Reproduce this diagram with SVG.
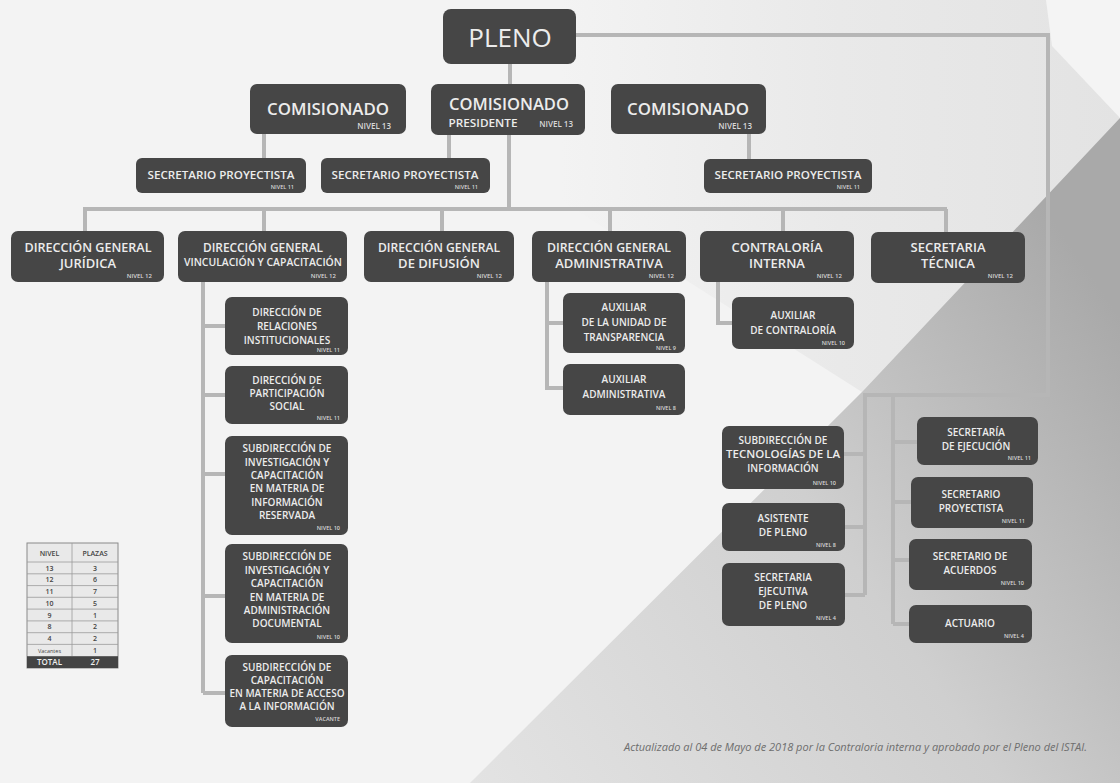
<svg xmlns="http://www.w3.org/2000/svg" width="1120" height="783" viewBox="0 0 1120 783">
<defs>
<linearGradient id="gd" x1="0" y1="1" x2="1" y2="0.3">
<stop offset="0" stop-color="#e3e3e3"/>
<stop offset="0.55" stop-color="#cfcfcf"/>
<stop offset="1" stop-color="#a9a9a9"/>
</linearGradient>
<linearGradient id="gl" x1="0" y1="0" x2="1" y2="0">
<stop offset="0" stop-color="#f3f3f3"/>
<stop offset="0.5" stop-color="#e9e9e9"/>
<stop offset="1" stop-color="#e3e3e3"/>
</linearGradient>
<style>
.bx{fill:#464646;}
.t{fill:#ececec;font-family:"Open Sans","Noto Sans","Liberation Sans",sans-serif;font-weight:600;text-anchor:middle;font-size:10px;}
.lv{fill:#d8d8d8;font-family:"Open Sans","Noto Sans","Liberation Sans",sans-serif;font-weight:600;text-anchor:end;font-size:5.5px;}
.c{fill:none;stroke:#b6b6b6;stroke-width:4;}
.tb{font-family:"Open Sans","Noto Sans","Liberation Sans",sans-serif;font-weight:600;text-anchor:middle;font-size:7px;fill:#444;}
</style>
</defs>
<rect width="1120" height="783" fill="#f3f3f3"/>
<polygon points="560,0 1120,0 1120,120 862,392 560,200" fill="url(#gl)"/>
<polygon points="1046,0 1120,0 1120,118 1052,46" fill="#f4f4f4"/>
<polygon points="1120,118 1120,783 470,783 862,392" fill="url(#gd)"/>

<g id="connectors" class="c">
<path d="M510,63 V84"/>
<path d="M576,35 H1048 V395 H865 V595"/>
<path d="M893,395 V624"/>
<path d="M844,454 H865 M845,527 H865 M845,595 H865"/>
<path d="M893,442 H917 M893,502 H911 M893,560 H909 M893,624 H909"/>
<path d="M264,134 V158"/>
<path d="M449,135 V158"/>
<path d="M509,135 V209"/>
<path d="M749,134 V159"/>
<path d="M83,209 H947"/>
<path d="M85,209 V231 M264,209 V231 M442,209 V231 M610,209 V231 M783,209 V231 M946,209 V232"/>
<path d="M203,282 V693 M203,326 H225 M203,395 H225 M203,474 H225 M203,596 H225 M203,693 H225"/>
<path d="M547,282 V388 H563 M547,323 H563"/>
<path d="M718,282 V323 H732"/>
</g>

<g id="pleno"><rect class="bx" x="443" y="9" width="133" height="55" rx="8"/><text class="t" x="510" y="47" style="font-size:26px;font-weight:500">PLENO</text></g>

<g id="comisionado1"><rect class="bx" x="250" y="84" width="156" height="50" rx="7"/><text class="t" x="328" y="115" style="font-size:17px" textLength="122" lengthAdjust="spacingAndGlyphs">COMISIONADO</text><text class="lv" x="391" y="129" style="font-size:8px">NIVEL 13</text></g>

<g id="comisionado-presidente"><rect class="bx" x="431" y="84" width="154" height="51" rx="7"/><text class="t" x="509" y="110" style="font-size:17px" textLength="120" lengthAdjust="spacingAndGlyphs">COMISIONADO</text><text class="t" x="483" y="127" style="font-size:10px" textLength="69" lengthAdjust="spacingAndGlyphs">PRESIDENTE</text><text class="lv" x="573" y="127" style="font-size:8px">NIVEL 13</text></g>

<g id="comisionado3"><rect class="bx" x="611" y="84" width="155" height="50" rx="7"/><text class="t" x="688" y="115" style="font-size:17px" textLength="122" lengthAdjust="spacingAndGlyphs">COMISIONADO</text><text class="lv" x="752" y="129" style="font-size:8px">NIVEL 13</text></g>

<g id="sp1"><rect class="bx" x="136" y="158" width="170" height="35" rx="6"/><text class="t" x="221" y="179" style="font-size:11.5px" textLength="147" lengthAdjust="spacingAndGlyphs">SECRETARIO PROYECTISTA</text><text class="lv" x="294" y="189">NIVEL 11</text></g>
<g id="sp2"><rect class="bx" x="321" y="158" width="169" height="35" rx="6"/><text class="t" x="405" y="179" style="font-size:11.5px" textLength="147" lengthAdjust="spacingAndGlyphs">SECRETARIO PROYECTISTA</text><text class="lv" x="478" y="189">NIVEL 11</text></g>
<g id="sp3"><rect class="bx" x="704" y="159" width="168" height="34" rx="6"/><text class="t" x="788" y="179" style="font-size:11.5px" textLength="147" lengthAdjust="spacingAndGlyphs">SECRETARIO PROYECTISTA</text><text class="lv" x="860" y="189">NIVEL 11</text></g>

<g id="dg-juridica"><rect class="bx" x="11" y="231" width="153" height="51" rx="7"/><text class="t" x="88" y="252" style="font-size:13px" textLength="127" lengthAdjust="spacingAndGlyphs">DIRECCIÓN GENERAL</text><text class="t" x="88" y="268" style="font-size:13px">JURÍDICA</text><text class="lv" x="152" y="278" style="font-size:6px">NIVEL 12</text></g>
<g id="dg-vinculacion"><rect class="bx" x="178" y="231" width="169" height="51" rx="7"/><text class="t" x="263" y="252" style="font-size:13px" textLength="120" lengthAdjust="spacingAndGlyphs">DIRECCIÓN GENERAL</text><text class="t" x="263" y="266" style="font-size:10.5px" textLength="158" lengthAdjust="spacingAndGlyphs">VINCULACIÓN Y CAPACITACIÓN</text><text class="lv" x="336" y="278" style="font-size:6px">NIVEL 12</text></g>
<g id="dg-difusion"><rect class="bx" x="364" y="231" width="150" height="51" rx="7"/><text class="t" x="439" y="252" style="font-size:13px" textLength="122" lengthAdjust="spacingAndGlyphs">DIRECCIÓN GENERAL</text><text class="t" x="439" y="268" style="font-size:13px">DE DIFUSIÓN</text><text class="lv" x="502" y="278" style="font-size:6px">NIVEL 12</text></g>
<g id="dg-administrativa"><rect class="bx" x="532" y="231" width="154" height="51" rx="7"/><text class="t" x="609" y="252" style="font-size:13px" textLength="124" lengthAdjust="spacingAndGlyphs">DIRECCIÓN GENERAL</text><text class="t" x="609" y="268" style="font-size:13px">ADMINISTRATIVA</text><text class="lv" x="674" y="278" style="font-size:6px">NIVEL 12</text></g>
<g id="contraloria-interna"><rect class="bx" x="700" y="231" width="154" height="51" rx="7"/><text class="t" x="777" y="252" style="font-size:13px">CONTRALORÍA</text><text class="t" x="777" y="268" style="font-size:13px">INTERNA</text><text class="lv" x="842" y="278" style="font-size:6px">NIVEL 12</text></g>
<g id="secretaria-tecnica"><rect class="bx" x="871" y="232" width="154" height="51" rx="7"/><text class="t" x="948" y="252" style="font-size:13px">SECRETARIA</text><text class="t" x="948" y="268" style="font-size:13px">TÉCNICA</text><text class="lv" x="1013" y="278" style="font-size:6px">NIVEL 12</text></g>

<g id="dir-relaciones"><rect class="bx" x="225" y="297" width="123" height="58" rx="7"/><text class="t" x="287" y="316">DIRECCIÓN DE</text><text class="t" x="287" y="330">RELACIONES</text><text class="t" x="287" y="344">INSTITUCIONALES</text><text class="lv" x="340" y="352">NIVEL 11</text></g>
<g id="dir-participacion"><rect class="bx" x="225" y="366" width="123" height="58" rx="7"/><text class="t" x="287" y="384">DIRECCIÓN DE</text><text class="t" x="287" y="397">PARTICIPACIÓN</text><text class="t" x="287" y="410">SOCIAL</text><text class="lv" x="340" y="420">NIVEL 11</text></g>
<g id="sub-info-reservada"><rect class="bx" x="225" y="436" width="123" height="99" rx="7"/><text class="t" x="287" y="452">SUBDIRECCIÓN DE</text><text class="t" x="287" y="466">INVESTIGACIÓN Y</text><text class="t" x="287" y="479">CAPACITACIÓN</text><text class="t" x="287" y="492">EN MATERIA DE</text><text class="t" x="287" y="506">INFORMACIÓN</text><text class="t" x="287" y="519">RESERVADA</text><text class="lv" x="340" y="530">NIVEL 10</text></g>
<g id="sub-admin-documental"><rect class="bx" x="225" y="544" width="123" height="99" rx="7"/><text class="t" x="287" y="560">SUBDIRECCIÓN DE</text><text class="t" x="287" y="574">INVESTIGACIÓN Y</text><text class="t" x="287" y="587">CAPACITACIÓN</text><text class="t" x="287" y="601">EN MATERIA DE</text><text class="t" x="287" y="614">ADMINISTRACIÓN</text><text class="t" x="287" y="627">DOCUMENTAL</text><text class="lv" x="340" y="639">NIVEL 10</text></g>
<g id="sub-acceso-info"><rect class="bx" x="225" y="655" width="123" height="72" rx="7"/><text class="t" x="287" y="671">SUBDIRECCIÓN DE</text><text class="t" x="287" y="684">CAPACITACIÓN</text><text class="t" x="287" y="697" textLength="115" lengthAdjust="spacingAndGlyphs">EN MATERIA DE ACCESO</text><text class="t" x="287" y="710">A LA INFORMACIÓN</text><text class="lv" x="340" y="721">VACANTE</text></g>

<g id="aux-transparencia"><rect class="bx" x="563" y="293" width="122" height="60" rx="7"/><text class="t" x="624" y="311">AUXILIAR</text><text class="t" x="624" y="326">DE LA UNIDAD DE</text><text class="t" x="624" y="341">TRANSPARENCIA</text><text class="lv" x="676" y="350">NIVEL 9</text></g>
<g id="aux-administrativa"><rect class="bx" x="563" y="364" width="122" height="51" rx="7"/><text class="t" x="624" y="383">AUXILIAR</text><text class="t" x="624" y="398">ADMINISTRATIVA</text><text class="lv" x="676" y="410">NIVEL 8</text></g>
<g id="aux-contraloria"><rect class="bx" x="732" y="297" width="122" height="52" rx="7"/><text class="t" x="793" y="319">AUXILIAR</text><text class="t" x="793" y="334">DE CONTRALORÍA</text><text class="lv" x="845" y="345">NIVEL 10</text></g>

<g id="sub-tecnologias"><rect class="bx" x="722" y="426" width="122" height="63" rx="7"/><text class="t" x="783" y="444">SUBDIRECCIÓN DE</text><text class="t" x="783" y="458" textLength="114" lengthAdjust="spacingAndGlyphs">TECNOLOGÍAS DE LA</text><text class="t" x="783" y="472">INFORMACIÓN</text><text class="lv" x="836" y="485">NIVEL 10</text></g>
<g id="asistente-pleno"><rect class="bx" x="722" y="503" width="123" height="48" rx="7"/><text class="t" x="783" y="522">ASISTENTE</text><text class="t" x="783" y="536">DE PLENO</text><text class="lv" x="836" y="547">NIVEL 8</text></g>
<g id="sec-ejecutiva"><rect class="bx" x="722" y="563" width="123" height="63" rx="7"/><text class="t" x="783" y="581">SECRETARIA</text><text class="t" x="783" y="595">EJECUTIVA</text><text class="t" x="783" y="609">DE PLENO</text><text class="lv" x="836" y="620">NIVEL 4</text></g>

<g id="sec-ejecucion"><rect class="bx" x="917" y="417" width="121" height="48" rx="7"/><text class="t" x="976" y="436">SECRETARÍA</text><text class="t" x="976" y="450">DE EJECUCIÓN</text><text class="lv" x="1031" y="460">NIVEL 11</text></g>
<g id="sec-proyectista"><rect class="bx" x="911" y="477" width="122" height="51" rx="7"/><text class="t" x="971" y="498">SECRETARIO</text><text class="t" x="971" y="512">PROYECTISTA</text><text class="lv" x="1025" y="523">NIVEL 11</text></g>
<g id="sec-acuerdos"><rect class="bx" x="909" y="539" width="123" height="51" rx="7"/><text class="t" x="970" y="560">SECRETARIO DE</text><text class="t" x="970" y="574">ACUERDOS</text><text class="lv" x="1024" y="585">NIVEL 10</text></g>
<g id="actuario"><rect class="bx" x="909" y="605" width="123" height="38" rx="7"/><text class="t" x="970" y="627">ACTUARIO</text><text class="lv" x="1024" y="638">NIVEL 4</text></g>

<g id="tabla">
<rect x="27" y="543" width="91" height="125" fill="#e9e9e9" stroke="#8a8a8a" stroke-width="1"/>
<g stroke="#9a9a9a" stroke-width="0.8">
<line x1="72" y1="543" x2="72" y2="656"/>
<line x1="27" y1="562" x2="118" y2="562"/>
<line x1="27" y1="573.8" x2="118" y2="573.8"/>
<line x1="27" y1="585.6" x2="118" y2="585.6"/>
<line x1="27" y1="597.3" x2="118" y2="597.3"/>
<line x1="27" y1="609.1" x2="118" y2="609.1"/>
<line x1="27" y1="620.9" x2="118" y2="620.9"/>
<line x1="27" y1="632.7" x2="118" y2="632.7"/>
<line x1="27" y1="644.4" x2="118" y2="644.4"/>
</g>
<rect x="27" y="656.2" width="91" height="11.8" fill="#444"/>
<text class="tb" x="49.5" y="555.5">NIVEL</text><text class="tb" x="95" y="555.5">PLAZAS</text>
<text class="tb" x="49.5" y="570.5">13</text><text class="tb" x="95" y="570.5">3</text>
<text class="tb" x="49.5" y="582.3">12</text><text class="tb" x="95" y="582.3">6</text>
<text class="tb" x="49.5" y="594">11</text><text class="tb" x="95" y="594">7</text>
<text class="tb" x="49.5" y="605.8">10</text><text class="tb" x="95" y="605.8">5</text>
<text class="tb" x="49.5" y="617.6">9</text><text class="tb" x="95" y="617.6">1</text>
<text class="tb" x="49.5" y="629.4">8</text><text class="tb" x="95" y="629.4">2</text>
<text class="tb" x="49.5" y="641.1">4</text><text class="tb" x="95" y="641.1">2</text>
<text class="tb" x="49.5" y="652.9" style="font-size:5.5px;font-weight:400">Vacantes</text><text class="tb" x="95" y="652.9">1</text>
<text class="tb" x="49.5" y="664.7" style="fill:#f0f0f0;font-size:8px">TOTAL</text><text class="tb" x="95" y="664.7" style="fill:#f0f0f0;font-size:8px">27</text>
</g>

<text x="624" y="751" style="font-family:'Open Sans','Noto Sans',sans-serif;font-style:italic;font-size:10px;fill:#6e6e6e" textLength="463" lengthAdjust="spacingAndGlyphs">Actualizado al 04 de Mayo de 2018 por la Contraloria interna y aprobado por el Pleno del ISTAI.</text>
</svg>
